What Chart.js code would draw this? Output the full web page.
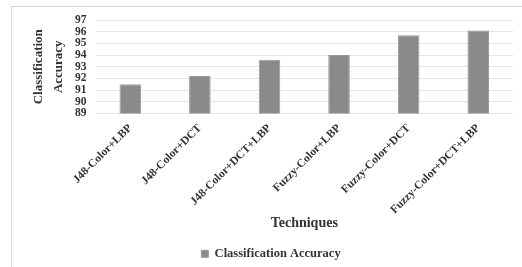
<!DOCTYPE html>
<html><head><meta charset="utf-8">
<script src="https://cdn.jsdelivr.net/npm/chart.js@4.4.0/dist/chart.umd.min.js"></script>
<style>
html,body{margin:0;padding:0;background:#fff;}
#frame{position:absolute;left:11px;top:6px;width:520px;height:270px;border:1px solid #d9d9d9;box-sizing:border-box;}
#wrap{position:absolute;left:0;top:0;width:522px;height:267px;}
</style></head><body>
<div id="frame"></div>
<div id="wrap"><canvas id="c" width="522" height="267"></canvas></div>
<script>
const categories = ["J48-Color+LBP","J48-Color+DCT","J48-Color+DCT+LBP","Fuzzy-Color+LBP","Fuzzy-Color+DCT","Fuzzy-Color+DCT+LBP"];
const accuracy = [91.5, 92.2, 93.6, 94.0, 95.7, 96.1];
const seriesName = "Classification Accuracy";
const yTitle = ["Classification","Accuracy"];
const xTitle = "Techniques";
const FONT = "'Liberation Serif','Times New Roman',serif";
new Chart(document.getElementById('c'), {
  type: 'bar',
  data: { labels: categories, datasets: [{ label: seriesName, data: accuracy, backgroundColor: '#8a8a8a', borderColor:'#9a9a9a', borderWidth:1, categoryPercentage: 1, barPercentage: 0.31 }] },
  options: {
    responsive: false, animation: false,
    layout: { padding: { left: 29, right: 9, top: 20, bottom: -3 } },
    plugins: {
      legend: { position: 'bottom', labels: { font: { family: FONT, size: 12.5, weight: 'bold' }, color: '#333', boxWidth: 7, boxHeight: 7, padding: 0 } },
      tooltip: { enabled: false }
    },
    scales: {
      x: {
        grid: { display: false }, border: { display: false },
        afterFit: (s) => { s.height += 9; },
        ticks: { font: { family: FONT, size: 11.5, weight: 'bold' }, color: '#333', minRotation: 45, maxRotation: 45, autoSkip: false, padding: 0 },
        title: { display: true, text: xTitle, font: { family: FONT, size: 14, weight: 'bold' }, color: '#333', padding: { top: 28, bottom: 16 } }
      },
      y: {
        min: 89, max: 97,
        grid: { color: '#e6e6e6', lineWidth: 1, drawTicks: false }, border: { display: false },
        ticks: { stepSize: 1, autoSkip: false, font: { family: FONT, size: 11.5, weight: 'bold' }, color: '#333', padding: 9 },
        title: { display: true, text: yTitle, font: { family: FONT, size: 13, weight: 'bold', lineHeight: 1.5 }, color: '#333', padding: { top: 0, bottom: -2 } }
      }
    }
  }
});
</script>
</body></html>
